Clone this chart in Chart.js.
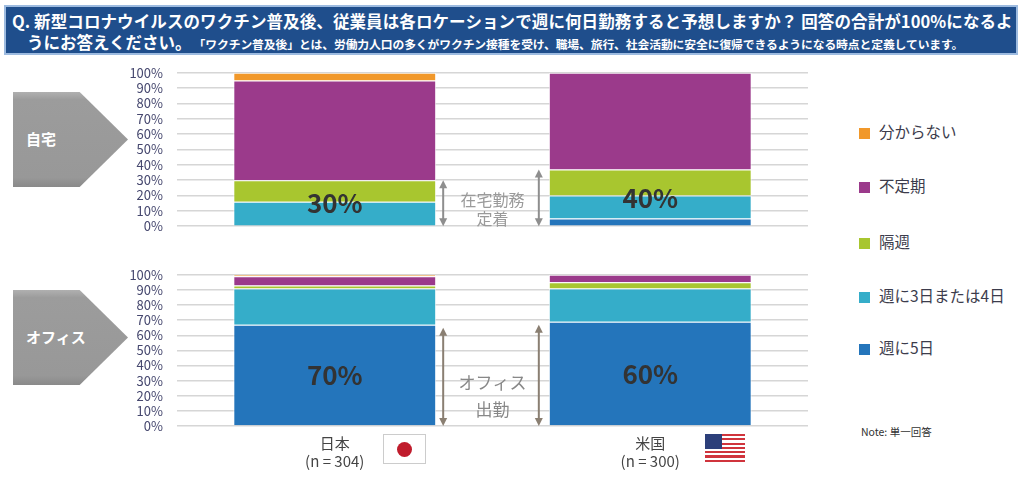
<!DOCTYPE html>
<html>
<head>
<meta charset="utf-8">
<script src="https://cdn.jsdelivr.net/npm/chart.js@4/dist/chart.umd.min.js"></script>
<style>
  body { margin: 0; width: 1024px; height: 479px; background: #fff; position: relative; overflow: hidden;
         font-family: "Noto Sans CJK JP", "Noto Sans", sans-serif; }
  .banner { position: absolute; left: 4px; top: 5px; width: 1010px; height: 46px; background: #1f4e8c;
            border: 2px solid #9dbbe0; color: #fff; font-weight: bold; }
  .banner .l1 { position: absolute; left: 6px; top: 2px; font-size: 16.5px; white-space: nowrap; letter-spacing: 0.1px; }
  .banner .l2 { position: absolute; left: 21px; top: 23px; font-size: 16.5px; white-space: nowrap; }
  .banner .l2 small { font-size: 11.8px; margin-left: 8px; letter-spacing: -0.1px; }
  .tag { position: absolute; left: 13px; width: 115px; height: 95px;
         background: linear-gradient(180deg, #b0b0b0 0%, #9c9c9c 8%, #989898 90%, #8a8a8a 100%);
         clip-path: polygon(0 0, 58% 0, 100% 50%, 58% 100%, 0 100%);
         color: #fff; font-weight: bold; font-size: 15px; }
  .tag span { position: absolute; left: 13px; top: 36px; }
  canvas { position: absolute; }
  .legend { position: absolute; left: 859px; top: 120px; }
  .legend div { position: absolute; white-space: nowrap; font-size: 15.5px; color: #3c3c4c; }
  .legend i { display: inline-block; width: 11px; height: 11px; margin-right: 9px; vertical-align: -1px; }
  .note { position: absolute; left: 861px; top: 424px; font-size: 10.5px; color: #333; }
  .flag-jp { position: absolute; left: 383px; top: 434px; width: 41px; height: 28px; border: 1px solid #ccc; background: #fff; }
  .flag-jp:after { content: ""; position: absolute; left: 13px; top: 7px; width: 15px; height: 15px; border-radius: 50%; background: #c01c2c; }
  .flag-us { position: absolute; left: 705px; top: 434px; width: 40px; height: 28px;
             background: repeating-linear-gradient(180deg, #d0343c 0 2.15px, #fff 2.15px 4.3px); }
  .flag-us:after { content: ""; position: absolute; left: 0; top: 0; width: 17px; height: 15px; background: #2c3f7a; }
</style>
</head>
<body>
<div class="banner">
  <div class="l1">Q. 新型コロナウイルスのワクチン普及後、従業員は各ロケーションで週に何日勤務すると予想しますか？ 回答の合計が100%になるよ</div>
  <div class="l2">うにお答えください。<small>「ワクチン普及後」とは、労働力人口の多くがワクチン接種を受け、職場、旅行、社会活動に安全に復帰できるようになる時点と定義しています。</small></div>
</div>
<div class="tag" style="top:92px"><span>自宅</span></div>
<div class="tag" style="top:290px"><span>オフィス</span></div>
<canvas id="homeChart"></canvas>
<canvas id="officeChart"></canvas>
<div class="legend" id="legend"></div>
<div class="note">Note: 単一回答</div>
<div class="flag-jp"></div>
<div class="flag-us"></div>
<script>
// categories
const countries = ["日本", "米国"];
const sampleSizes = ["(n = 304)", "(n = 300)"];
// series, bottom of the stack first
const seriesNames = ["週に5日", "週に3日または4日", "隔週", "不定期", "分からない"];
const yTicks = [0, 10, 20, 30, 40, 50, 60, 70, 80, 90, 100];

// 自宅 (home), per country
const home5Days = [0, 5];
const home3or4Days = [16, 15];
const homeBiweekly = [14, 17];
const homeIrregular = [65, 63];
const homeUnknown = [5, 0];
const homeHighlight = ["30%", "40%"];

// オフィス (office), per country
const office5Days = [67, 69];
const office3or4Days = [24, 22];
const officeBiweekly = [2, 4];
const officeIrregular = [6, 5];
const officeUnknown = [1, 0];
const officeHighlight = ["70%", "60%"];

const seriesColors = ["#2475bb", "#35adc9", "#a8c62f", "#9b3a8b", "#f1982a"];
const FONT = '"Noto Sans CJK JP", "Noto Sans", sans-serif';

function buildDatasets(rows) {
  return rows.map((vals, i) => ({
    label: seriesNames[i],
    data: vals,
    backgroundColor: seriesColors[i],
    borderColor: "rgba(255,255,255,0.75)",
    borderWidth: 1,
    barPercentage: 1,
    categoryPercentage: 0.643
  }));
}

// big % labels and the double arrows beside the bars
const bracketPlugin = {
  id: "bracket",
  afterDatasetsDraw(chart, args, opts) {
    const ctx = chart.ctx;
    const y = chart.scales.y;
    const metas = chart.data.datasets.map((d, i) => chart.getDatasetMeta(i));
    ctx.save();
    countries.forEach((c, ci) => {
      let top = 0;
      for (let s = 0; s < opts.groupSize; s++) top += chart.data.datasets[s].data[ci];
      const bar = metas[0].data[ci];
      // highlight text
      ctx.fillStyle = "#333";
      ctx.font = "bold 26px " + FONT;
      ctx.textAlign = "center";
      ctx.textBaseline = "middle";
      ctx.fillText(opts.labels[ci], bar.x, y.getPixelForValue(top / 2));
      // arrow
      const ax = ci === 0 ? bar.x + bar.width / 2 + 7 : bar.x - bar.width / 2 - 10;
      const y0 = y.getPixelForValue(0), y1 = y.getPixelForValue(top - opts.arrowTrim);
      ctx.strokeStyle = opts.arrowColor;
      ctx.fillStyle = opts.arrowColor;
      ctx.lineWidth = 2;
      ctx.beginPath(); ctx.moveTo(ax, y0 - 4); ctx.lineTo(ax, y1 + 4); ctx.stroke();
      ctx.beginPath(); ctx.moveTo(ax, y1); ctx.lineTo(ax - 4, y1 + 8); ctx.lineTo(ax + 4, y1 + 8); ctx.fill();
      ctx.beginPath(); ctx.moveTo(ax, y0); ctx.lineTo(ax - 4, y0 - 8); ctx.lineTo(ax + 4, y0 - 8); ctx.fill();
    });
    // middle caption
    const mx = (metas[0].data[0].x + metas[0].data[1].x) / 2;
    ctx.fillStyle = opts.textColor;
    ctx.font = opts.textFont + " " + FONT;
    ctx.textAlign = "center";
    opts.caption.forEach((t, i) => ctx.fillText(t, mx, y.getPixelForValue(opts.captionAt[i])));
    ctx.restore();
  }
};

function makeOptions(showX, plugOpts) {
  return {
    responsive: false,
    animation: false,
    layout: { padding: { top: 4, right: 12, bottom: showX ? 0 : 6, left: 0 } },
    plugins: { legend: { display: false }, tooltip: { enabled: false }, bracket: plugOpts },
    scales: {
      x: {
        stacked: true,
        display: showX,
        grid: { display: false },
        border: { display: false },
        ticks: { color: "#444", font: { family: FONT, size: 15 }, padding: 0 },
        afterFit: s => { if (showX) s.height = 53; }
      },
      y: {
        stacked: true,
        min: 0, max: 100,
        afterBuildTicks: s => { s.ticks = yTicks.map(v => ({ value: v })); },
        afterFit: s => { s.width = 57; },
        grid: { color: "#d6d6d6", lineWidth: 1.5, drawTicks: false },
        border: { display: false },
        ticks: { autoSkip: false, callback: v => v + "%", color: "#45476e", font: { family: FONT, size: 13 }, padding: 14 }
      }
    }
  };
}

function placeCanvas(id, left, top, w, h) {
  const el = document.getElementById(id);
  el.width = w; el.height = h;
  el.style.left = left + "px"; el.style.top = top + "px";
  el.style.width = w + "px"; el.style.height = h + "px";
  return el;
}

new Chart(placeCanvas("homeChart", 120, 51, 700, 197), {
  type: "bar",
  data: {
    labels: countries,
    datasets: buildDatasets([home5Days, home3or4Days, homeBiweekly, homeIrregular, homeUnknown])
  },
  options: makeOptions(false, {
    groupSize: 3, labels: homeHighlight, arrowColor: "#8e8e8e", arrowTrim: 0,
    caption: ["在宅勤務", "定着"], captionAt: [17, 5], textColor: "#9a9a9a", textFont: "16px"
  }),
  plugins: [bracketPlugin]
});

new Chart(placeCanvas("officeChart", 120, 253, 700, 226), {
  type: "bar",
  data: {
    labels: countries.map((c, i) => [c, sampleSizes[i]]),
    datasets: buildDatasets([office5Days, office3or4Days, officeBiweekly, officeIrregular, officeUnknown])
  },
  options: makeOptions(true, {
    groupSize: 1, labels: officeHighlight, arrowColor: "#8a7f72", arrowTrim: 2,
    caption: ["オフィス", "出勤"], captionAt: [29, 11], textColor: "#888", textFont: "17px"
  }),
  plugins: [bracketPlugin]
});

// legend, top of the stack first
const legendTops = [0, 54, 110, 164, 216];
const legendEl = document.getElementById("legend");
seriesNames.slice().reverse().forEach((name, i) => {
  const d = document.createElement("div");
  d.style.top = legendTops[i] + "px";
  d.innerHTML = '<i style="background:' + seriesColors[seriesNames.length - 1 - i] + '"></i>' + name;
  legendEl.appendChild(d);
});
</script>
</body>
</html>
